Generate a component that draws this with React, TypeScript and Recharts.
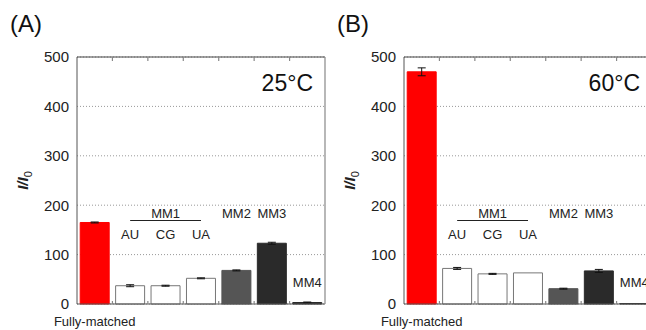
import React from "react";
import {
  BarChart,
  Bar,
  XAxis,
  YAxis,
  CartesianGrid,
  Cell,
  ErrorBar,
  ReferenceDot,
  ReferenceLine,
} from "recharts";

const categories = ["Fully-matched", "AU", "CG", "UA", "MM2", "MM3", "MM4"];
const values25 = [165, 37, 37, 52, 68, 123, 3];
const errors25 = [1, 2, 1, 1, 1, 2, 1];
const values60 = [470, 72, 61, 63, 31, 67, 1];
const errors60 = [8, 2, 1, 0, 1, 3, 0];
const yTicks = [0, 100, 200, 300, 400, 500];

const fills = ["#ff0000", "#ffffff", "#ffffff", "#ffffff", "#555555", "#2a2a2a", "#2a2a2a"];
const FONT = "'Liberation Sans', Arial, sans-serif";

// chart geometry (plot box = margins + axis sizes below)
const W = 330;
const H = 330;
const M = { top: 57, right: 5, left: 0, bottom: 0 };
const Y_AXIS_W = 77;
const X_AXIS_H = 26;

// text annotations above the bars (y in data units, baseline)
const notes = [
  { text: "MM1", x: "CG", y: 175 },
  { text: "AU", x: "AU", y: 131 },
  { text: "CG", x: "CG", y: 131 },
  { text: "UA", x: "UA", y: 131 },
  { text: "MM2", x: "MM2", y: 175 },
  { text: "MM3", x: "MM3", y: 175 },
  { text: "MM4", x: "MM4", y: 35 },
];

// top/right border of the plot box plus small ticks between categories
const FrameOverlay = () => {
  const px = M.left + Y_AXIS_W;
  const py = M.top;
  const pw = W - px - M.right;
  const ph = H - py - M.bottom - X_AXIS_H;
  const n = categories.length;
  const bounds = categories.slice(1).map((_, i) => px + (pw * (i + 1)) / n);
  return (
    <svg
      width={W}
      height={H}
      style={{ position: "absolute", left: 0, top: 0, pointerEvents: "none", zIndex: 2 }}
    >
      <line x1={px} x2={px + pw} y1={py} y2={py} stroke="#444" strokeWidth={1.2} />
      <line x1={px + pw} x2={px + pw} y1={py} y2={py + ph} stroke="#888" strokeWidth={1.2} />
      {bounds.map((bx, i) => (
        <g key={i}>
          <line x1={bx} x2={bx} y1={py} y2={py + 4} stroke="#888" strokeWidth={1.2} />
          <line x1={bx} x2={bx} y1={py + ph - 3} y2={py + ph} stroke="#888" strokeWidth={1.2} />
        </g>
      ))}
    </svg>
  );
};

const YLabel = ({ viewBox }: any) => {
  const cx = viewBox.x + 28;
  const cy = viewBox.y + viewBox.height / 2;
  return (
    <text
      transform={`translate(${cx},${cy}) rotate(-90)`}
      textAnchor="middle"
      fontFamily={FONT}
      fontSize={15}
      fontStyle="italic"
      fontWeight="bold"
      fill="#222"
    >
      I/I
      <tspan fontSize={11} dy={4} fontStyle="normal" fontWeight="normal">
        0
      </tspan>
    </text>
  );
};

interface PanelProps {
  values: number[];
  errors: number[];
  tag: string;
  temp: string;
  left: number;
}

const Panel: React.FC<PanelProps> = ({ values, errors, tag, temp, left }) => {
  const data = categories.map((name, i) => ({ name, value: values[i], err: errors[i] }));
  return (
    <div style={{ position: "absolute", left, top: 0, width: W, height: H }}>
      <div
        style={{
          position: "absolute",
          left: 10,
          top: 12,
          fontFamily: FONT,
          fontSize: 24,
          lineHeight: 1,
          color: "#111",
        }}
      >
        {tag}
      </div>
      <div
        style={{
          position: "absolute",
          right: 17,
          top: 72,
          fontFamily: FONT,
          fontSize: 23,
          lineHeight: 1,
          color: "#111",
          zIndex: 3,
        }}
      >
        {temp}
      </div>
      <BarChart
        width={W}
        height={H}
        data={data}
        margin={M}
        barCategoryGap="9%"
        style={{ position: "absolute", left: 0, top: 0 }}
      >
        <CartesianGrid
          vertical={false}
          stroke="#999"
          strokeDasharray="1 2"
          yAxisId="v"
          xAxisId="cat"
        />
        <XAxis
          xAxisId="cat"
          dataKey="name"
          height={X_AXIS_H}
          stroke="#555"
          tickLine={false}
          tickMargin={7}
          interval={0}
          tickFormatter={(v: string) => (v === "Fully-matched" ? v : "")}
          tick={{ fontFamily: FONT, fontSize: 13, fill: "#222" }}
        />
        <YAxis
          yAxisId="v"
          domain={[0, 500]}
          ticks={yTicks}
          width={Y_AXIS_W}
          tickLine={false}
          stroke="#555"
          tick={{ fontFamily: FONT, fontSize: 15, fill: "#222" }}
          label={<YLabel />}
        />
        <Bar dataKey="value" xAxisId="cat" yAxisId="v" isAnimationActive={false}>
          {data.map((d, i) => (
            <Cell
              key={d.name}
              fill={fills[i]}
              stroke={fills[i] === "#ffffff" ? "#777" : fills[i]}
              strokeWidth={1}
            />
          ))}
          <ErrorBar dataKey="err" width={4} stroke="#111" strokeWidth={1} isAnimationActive={false} />
        </Bar>
        <ReferenceLine
          xAxisId="cat"
          yAxisId="v"
          segment={[
            { x: "AU", y: 169 },
            { x: "UA", y: 169 },
          ]}
          stroke="#222"
          strokeWidth={1}
        />
        {notes.map((n) => (
          <ReferenceDot
            key={n.text}
            xAxisId="cat"
            yAxisId="v"
            x={n.x}
            y={n.y}
            r={0}
            shape={(p: any) => (
              <text
                x={p.cx}
                y={p.cy}
                textAnchor="middle"
                fontFamily={FONT}
                fontSize={13}
                fill="#222"
              >
                {n.text}
              </text>
            )}
          />
        ))}
      </BarChart>
      <FrameOverlay />
    </div>
  );
}

export default function App() {
  return (
    <div
      style={{
        position: "fixed",
        left: 0,
        top: 0,
        width: 646,
        height: 330,
        overflow: "hidden",
        background: "#fff",
      }}
    >
      <Panel values={values25} errors={errors25} tag="(A)" temp="25°C" left={0} />
      <Panel values={values60} errors={errors60} tag="(B)" temp="60°C" left={327} />
    </div>
  );
}
